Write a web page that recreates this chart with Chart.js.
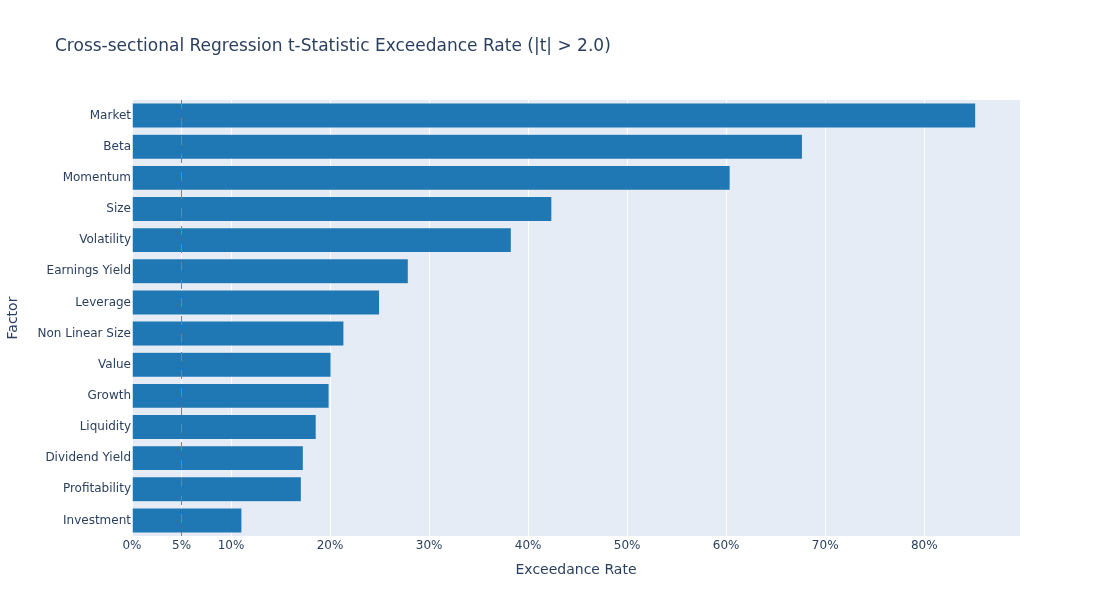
<!DOCTYPE html>
<html>
<head>
<meta charset="utf-8">
<script src="https://cdn.jsdelivr.net/npm/chart.js@4/dist/chart.umd.min.js"></script>
<style>
  body { margin: 0; background: #fff; }
  #wrap { position: relative; width: 1100px; height: 616px; }
  #title {
    position: absolute; left: 55px; top: 34px;
    font: 17px "DejaVu Sans", sans-serif; color: #2a3f5f; line-height: 22px;
  }
</style>
</head>
<body>
<div id="wrap">
  <div id="title">Cross-sectional Regression t-Statistic Exceedance Rate (|t| &gt; 2.0)</div>
  <canvas id="chrt" width="1100" height="616"></canvas>
</div>
<script>
// factors, top to bottom
var factors = ["Market", "Beta", "Momentum", "Size", "Volatility", "Earnings Yield",
    "Leverage", "Non Linear Size", "Value", "Growth", "Liquidity", "Dividend Yield",
    "Profitability", "Investment"];
// share of dates with |t| > 2.0
var rates = [0.852, 0.677, 0.604, 0.424, 0.383, 0.279, 0.250, 0.214, 0.201, 0.199,
    0.186, 0.173, 0.171, 0.111];
var tickValues = [0, 0.05, 0.1, 0.2, 0.3, 0.4, 0.5, 0.6, 0.7, 0.8];
var threshold = 0.05;
var xMax = 0.8967;

var txtColor = '#2a3f5f';
var fontName = 'DejaVu Sans';

// plot background + dashed 5% line
var plotBg = {
    id: 'plotBg',
    beforeDraw: function (chart) {
        var a = chart.chartArea, ctx = chart.ctx;
        ctx.save();
        ctx.fillStyle = '#e5ecf6';
        ctx.fillRect(a.left, a.top, a.right - a.left, a.bottom - a.top);
        ctx.restore();
    },
    afterDatasetsDraw: function (chart) {
        var a = chart.chartArea, ctx = chart.ctx;
        var x = chart.scales.x.getPixelForValue(threshold);
        ctx.save();
        ctx.strokeStyle = 'gray';
        ctx.lineWidth = 1;
        ctx.setLineDash([9, 9]);
        ctx.beginPath();
        ctx.moveTo(x, a.top);
        ctx.lineTo(x, a.bottom);
        ctx.stroke();
        ctx.restore();
    }
};

var chrt = document.getElementById("chrt").getContext("2d");
var chartId = new Chart(chrt, {
    type: 'bar',
    data: {
        labels: factors,
        datasets: [{
            label: "Exceedance Rate",
            data: rates,
            backgroundColor: '#1f77b4',
            borderColor: '#e5ecf6',
            borderWidth: 0.5,
            barPercentage: 0.8,
            categoryPercentage: 1.0
        }]
    },
    options: {
        indexAxis: 'y',
        responsive: false,
        animation: false,
        layout: {
            padding: { left: 0, right: 80, top: 100, bottom: 0 }
        },
        scales: {
            x: {
                min: 0,
                max: xMax,
                afterBuildTicks: function (scale) {
                    scale.ticks = tickValues.map(function (v) { return { value: v }; });
                },
                afterFit: function (scale) { scale.height = 80; },
                border: { display: false },
                grid: { color: '#ffffff', lineWidth: 1, drawTicks: false },
                ticks: {
                    padding: 3,
                    color: txtColor,
                    font: { family: fontName, size: 12 },
                    callback: function (val) { return Math.round(val * 100) + '%'; }
                },
                title: {
                    display: true,
                    text: 'Exceedance Rate',
                    color: txtColor,
                    font: { family: fontName, size: 14 },
                    padding: { top: 4, bottom: 37 }
                }
            },
            y: {
                afterFit: function (scale) { scale.width = 132; },
                border: { display: false },
                grid: { display: false, drawTicks: false },
                ticks: {
                    padding: 1,
                    color: txtColor,
                    font: { family: fontName, size: 12 }
                },
                title: {
                    display: true,
                    text: 'Factor',
                    color: txtColor,
                    font: { family: fontName, size: 14 },
                    padding: { top: 5, bottom: 0 }
                }
            }
        },
        plugins: {
            legend: { display: false },
            tooltip: { enabled: false }
        }
    },
    plugins: [plotBg]
});
</script>
</body>
</html>
